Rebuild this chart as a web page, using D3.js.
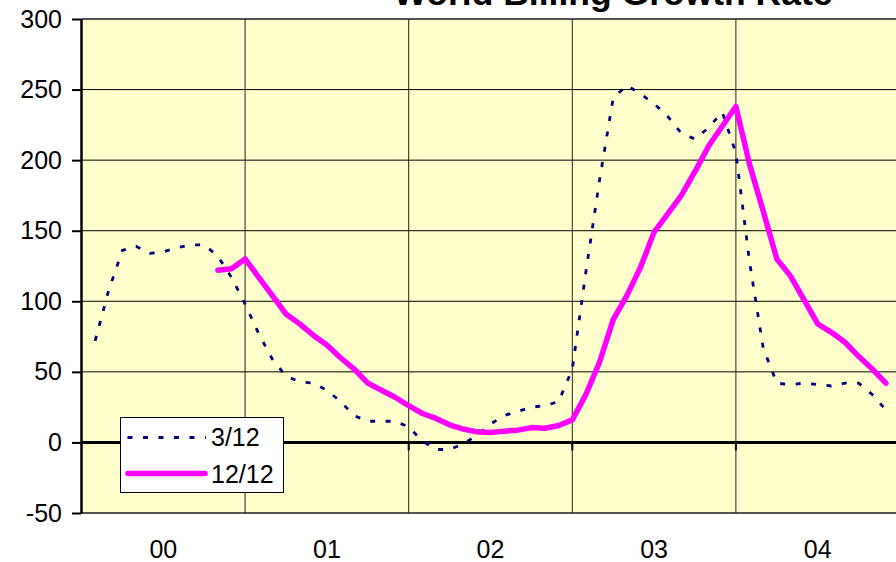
<!DOCTYPE html>
<html>
<head>
<meta charset="utf-8">
<script src="https://cdn.jsdelivr.net/npm/d3@7"></script>
<style>
  html, body { margin: 0; padding: 0; background: #fff; overflow: hidden; }
  svg { display: block; }
  text { font-family: "Liberation Sans", Arial, sans-serif; fill: #000; }
</style>
</head>
<body>
<svg id="chart" width="896" height="562"></svg>
<script>
// ---- data (monthly, Jan 2000 .. Dec 2004; index = month number) ----
const yearLabels = ["00", "01", "02", "03", "04"];
const yTicks = [-50, 0, 50, 100, 150, 200, 250, 300];
const seriesNames = ["3/12", "12/12"];
const growth3_12 = [
  null, 72, 108, 136, 139, 134, 135, 138, 140, 140, 132, 117,
  98, 77, 59, 47, 43, 42, 37, 29, 19, 15, 15, 15,
  11, 1, -5, -5, -1, 5, 13, 19, 22, 25, 26, 29,
  52, 121, 186, 244, 253, 247, 240, 231, 219, 215, 223, 234,
  205, 128, 67, 42, 41, 42, 41, 40, 42, 42, 34, 23
];
const growth12_12 = [
  null, null, null, null, null, null, null, null, null, null, 122, 123,
  130, 117, 104, 91, 84, 76, 69, 60, 52, 42, 37, 32,
  26, 20.5, 17, 12.5, 9.5, 7.5, 7, 8, 8.7, 10.5, 10, 12,
  16, 34, 57, 87, 104, 124, 149, 162, 175, 192, 210, 224,
  238, 197, 164, 130, 118, 101, 84, 78, 71, 61, 52, 42
];

(function () {
// ---- layout ----
const svg = d3.select("#chart");
const pLeft = 81.5, pRight = 899.5, pTop = 19, pBottom = 513;
const monthsPerYear = 12;
const nMonths = yearLabels.length * monthsPerYear;

const x = d3.scaleLinear().domain([0, nMonths]).range([pLeft, pRight]);
const y = d3.scaleLinear().domain([-50, 300]).range([pBottom, pTop]);

// plot background
svg.append("rect")
  .attr("x", pLeft).attr("y", pTop)
  .attr("width", pRight - pLeft).attr("height", pBottom - pTop)
  .attr("fill", "#FFFFCC")
  .attr("stroke", "#555").attr("stroke-width", 1);

// horizontal gridlines
svg.append("g").selectAll("line")
  .data(yTicks.filter(v => v !== 0))
  .join("line")
  .attr("x1", pLeft).attr("x2", pRight)
  .attr("y1", d => y(d)).attr("y2", d => y(d))
  .attr("stroke", "#000").attr("stroke-width", 1);

// vertical gridlines at year boundaries
const yearBounds = d3.range(1, yearLabels.length).map(i => i * monthsPerYear);
svg.append("g").selectAll("line")
  .data(yearBounds)
  .join("line")
  .attr("x1", d => x(d)).attr("x2", d => x(d))
  .attr("y1", pTop).attr("y2", pBottom)
  .attr("stroke", "#222").attr("stroke-width", 1);

// zero line (category axis)
svg.append("line")
  .attr("x1", pLeft).attr("x2", pRight)
  .attr("y1", y(0)).attr("y2", y(0))
  .attr("stroke", "#000").attr("stroke-width", 3);

// category tick marks below zero line
svg.append("g").selectAll("line")
  .data(yearBounds)
  .join("line")
  .attr("x1", d => x(d)).attr("x2", d => x(d))
  .attr("y1", y(0)).attr("y2", y(0) + 8)
  .attr("stroke", "#000").attr("stroke-width", 2);

// y axis
const yAxis = d3.axisLeft(y).tickValues(yTicks).tickSize(9).tickSizeOuter(0).tickPadding(10).tickFormat(d => String(d));
const ya = svg.append("g").attr("transform", `translate(${pLeft - 0.5},0)`).call(yAxis);
ya.select(".domain").attr("stroke", "#000").attr("stroke-width", 2.5);
ya.selectAll(".tick line").attr("stroke", "#000").attr("stroke-width", 2);
ya.selectAll(".tick text")
  .attr("font-size", 25)
  .attr("font-family", '"Liberation Sans", Arial, sans-serif')
  .attr("fill", "#000")
  .attr("dy", "0.32em");

// year labels
svg.append("g").selectAll("text")
  .data(yearLabels)
  .join("text")
  .attr("x", (d, i) => x(i * monthsPerYear + monthsPerYear / 2))
  .attr("y", 558)
  .attr("text-anchor", "middle")
  .attr("font-size", 25)
  .text(d => d);

// lines
const line = d3.line()
  .defined(d => d != null)
  .x((d, i) => x(i))
  .y(d => y(d));

svg.append("path")
  .datum(growth3_12)
  .attr("d", line)
  .attr("fill", "none")
  .attr("stroke", "#000080")
  .attr("stroke-width", 2.8)
  .attr("stroke-dasharray", "5,10.5");

svg.append("path")
  .datum(growth12_12)
  .attr("d", line)
  .attr("fill", "none")
  .attr("stroke", "#FF00FF")
  .attr("stroke-width", 5.5)
  .attr("stroke-linejoin", "round")
  .attr("stroke-linecap", "round");

// title
svg.append("text")
  .attr("x", 613).attr("y", 5)
  .attr("text-anchor", "middle")
  .attr("font-size", 35.5)
  .attr("font-weight", "bold")
  .text("World Billing Growth Rate");

// legend
const lg = svg.append("g");
lg.append("rect")
  .attr("x", 120.5).attr("y", 417.5)
  .attr("width", 163).attr("height", 75)
  .attr("fill", "#fff").attr("stroke", "#000").attr("stroke-width", 1);
lg.append("line")
  .attr("x1", 127.5).attr("x2", 206).attr("y1", 437.5).attr("y2", 437.5)
  .attr("stroke", "#000080").attr("stroke-width", 2.8)
  .attr("stroke-dasharray", "5,10.5");
lg.append("line")
  .attr("x1", 128).attr("x2", 205).attr("y1", 473.5).attr("y2", 473.5)
  .attr("stroke", "#FF00FF").attr("stroke-width", 5.5)
  .attr("stroke-linecap", "round");
lg.selectAll("text.lab")
  .data(seriesNames)
  .join("text")
  .attr("class", "lab")
  .attr("x", 211)
  .attr("y", (d, i) => i === 0 ? 446 : 483)
  .attr("font-size", 25)
  .text(d => d);
})();
</script>
</body>
</html>
